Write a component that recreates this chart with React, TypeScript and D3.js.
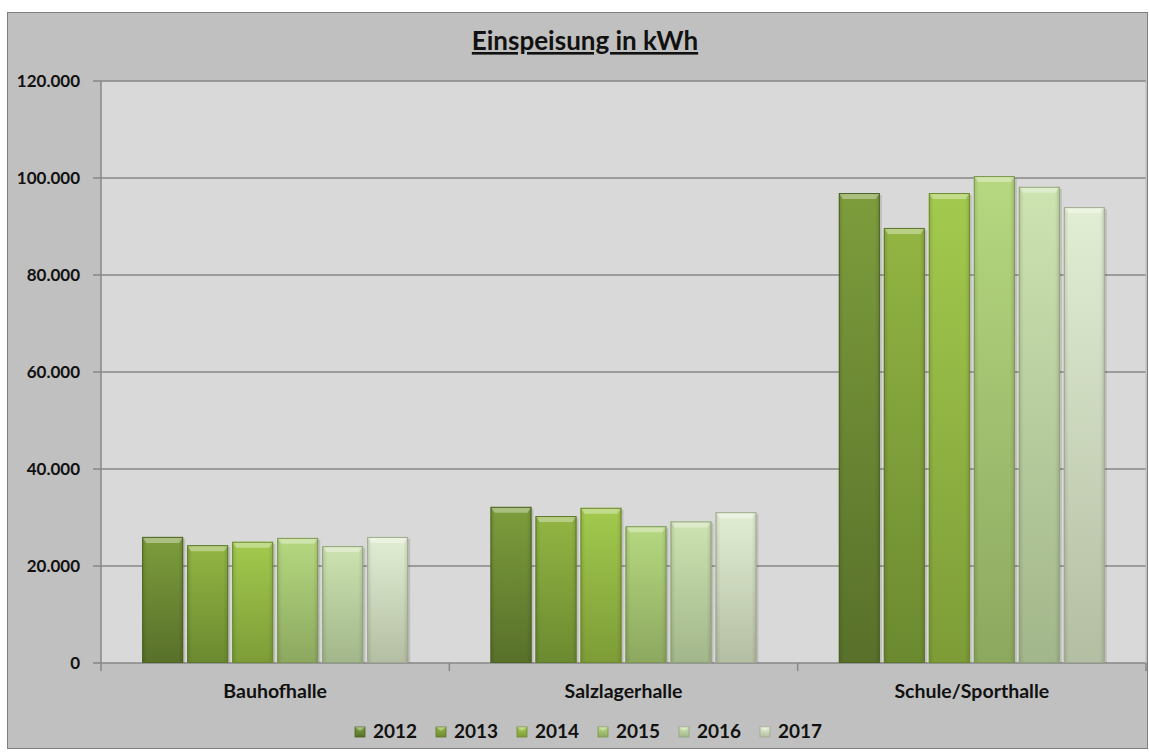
import React from 'react';
import * as d3 from 'd3';

// ---- data ----
const categories = ['Bauhofhalle', 'Salzlagerhalle', 'Schule/Sporthalle'];
const years = ['2012', '2013', '2014', '2015', '2016', '2017'];
const values: Record<string, number[]> = {
  '2012': [26000, 32200, 96900],
  '2013': [24300, 30300, 89700],
  '2014': [25000, 32000, 96900],
  '2015': [25800, 28200, 100400],
  '2016': [24100, 29200, 98200],
  '2017': [26000, 31100, 94000],
};
const yTicks = [0, 20000, 40000, 60000, 80000, 100000, 120000];

// top / bottom colours of each series gradient
const topCols = ['#7d9d3c', '#92b543', '#a3ca4e', '#b6d880', '#cde3b0', '#e2eed3'];
const botCols = ['#58702a', '#6b8a30', '#7d9c37', '#8ca85f', '#a2b68b', '#b3bea3'];
const edgeCols = ['#4d6224', '#5c7829', '#6c8a2e', '#7d9652', '#8fa27a', '#9ea88f'];

const W = 1149;
const H = 753;
const plot = { left: 101, right: 1146, top: 81, bottom: 663 };
const font = 'Lato, "Open Sans", sans-serif';

const fmt = (v: number) => (v === 0 ? '0' : d3.format(',')(v).replace(/,/g, '.'));

export default function App() {
  const x0 = d3.scaleBand<string>()
    .domain(categories)
    .range([plot.left, plot.right])
    .padding(0);
  const x1 = d3.scaleBand<string>()
    .domain(years)
    .range([0, x0.bandwidth()])
    .paddingInner(0.089)
    .paddingOuter(0.915);
  const y = d3.scaleLinear().domain([0, 120000]).range([plot.bottom, plot.top]);

  const bw = x1.bandwidth();

  return (
    <svg width={W} height={H} style={{ position: 'absolute', left: 0, top: 0 }}>
      <defs>
        {years.map((yr, i) => (
          <linearGradient key={yr} id={`g${i}`} x1="0" y1="0" x2="0" y2="1">
            <stop offset="0%" stopColor={topCols[i]} />
            <stop offset="100%" stopColor={botCols[i]} />
          </linearGradient>
        ))}
        <linearGradient id="side" x1="0" y1="0" x2="1" y2="0">
          <stop offset="0%" stopColor="#000" stopOpacity={0.12} />
          <stop offset="12%" stopColor="#000" stopOpacity={0} />
          <stop offset="88%" stopColor="#000" stopOpacity={0} />
          <stop offset="100%" stopColor="#000" stopOpacity={0.12} />
        </linearGradient>
      </defs>

      {/* chart background */}
      <rect x={7.5} y={12.5} width={1140} height={736} fill="#c0c0c0" stroke="#7f7f7f" strokeWidth={1} />

      {/* plot area */}
      <rect x={plot.left} y={plot.top} width={plot.right - plot.left} height={plot.bottom - plot.top}
        fill="#d9d9d9" />

      {/* gridlines */}
      {yTicks.map(t => (
        <line key={t} x1={plot.left - 8} x2={plot.right} y1={y(t)} y2={y(t)}
          stroke="#878787" strokeWidth={1.5} />
      ))}
      {/* y axis line */}
      <line x1={plot.left} x2={plot.left} y1={plot.top} y2={plot.bottom + 8} stroke="#878787" strokeWidth={1.5} />
      {/* right plot edge */}
      <line x1={plot.right} x2={plot.right} y1={plot.top} y2={plot.bottom} stroke="#bdbdbd" strokeWidth={1} />

      {/* category ticks */}
      {categories.map(c => (
        <line key={c} x1={x0(c)! + x0.bandwidth()} x2={x0(c)! + x0.bandwidth()}
          y1={plot.bottom} y2={plot.bottom + 8} stroke="#878787" strokeWidth={1.5} />
      ))}

      {/* y labels */}
      {yTicks.map(t => (
        <text key={t} x={80} y={y(t)} dy="0.36em" textAnchor="end" fontFamily={font}
          fontWeight="bold" fontSize={17} fill="#111">{fmt(t)}</text>
      ))}

      {/* bars */}
      {categories.map((c, ci) => (
        <g key={c} transform={`translate(${x0(c)},0)`}>
          {years.map((yr, i) => {
            const bx = x1(yr)!;
            const by = y(values[yr][ci]);
            const bh = plot.bottom - by;
            const bev = 4;
            return (
              <g key={yr}>
                <rect x={bx + 2} y={by + 2} width={bw} height={bh - 2} fill="#000" opacity={0.12} />
                <rect x={bx} y={by} width={bw} height={bh} fill={`url(#g${i})`} />
                <rect x={bx} y={by} width={bw} height={bh} fill="url(#side)" />
                <polygon
                  points={`${bx},${by} ${bx + bw},${by} ${bx + bw - bev},${by + bev + 2} ${bx + bev},${by + bev + 2}`}
                  fill="#ffffff" opacity={0.35} />
                <rect x={bx + 0.5} y={by + 0.5} width={bw - 1} height={bh - 1} fill="none"
                  stroke={edgeCols[i]} strokeWidth={1} />
              </g>
            );
          })}
        </g>
      ))}

      {/* category labels */}
      {categories.map(c => (
        <text key={c} x={x0(c)! + x0.bandwidth() / 2} y={698} textAnchor="middle"
          fontFamily={font} fontWeight="bold" fontSize={19.5} fill="#111">{c}</text>
      ))}

      {/* title */}
      <text x={585} y={50} textAnchor="middle" fontFamily={font} fontWeight="bold" fontSize={26}
        fill="#111" textDecoration="underline">Einspeisung in kWh</text>

      {/* legend */}
      {years.map((yr, i) => {
        const lx = 355 + i * 81;
        return (
          <g key={yr}>
            <rect x={lx} y={727} width={10} height={10} fill={`url(#g${i})`} stroke={edgeCols[i]} strokeWidth={0.8} />
            <polygon points={`${lx},727 ${lx + 10},727 ${lx + 5},731`} fill="#fff" opacity={0.35} />
            <text x={lx + 18} y={738} fontFamily={font} fontWeight="bold" fontSize={19}
              fill="#111">{yr}</text>
          </g>
        );
      })}
    </svg>
  );
}
